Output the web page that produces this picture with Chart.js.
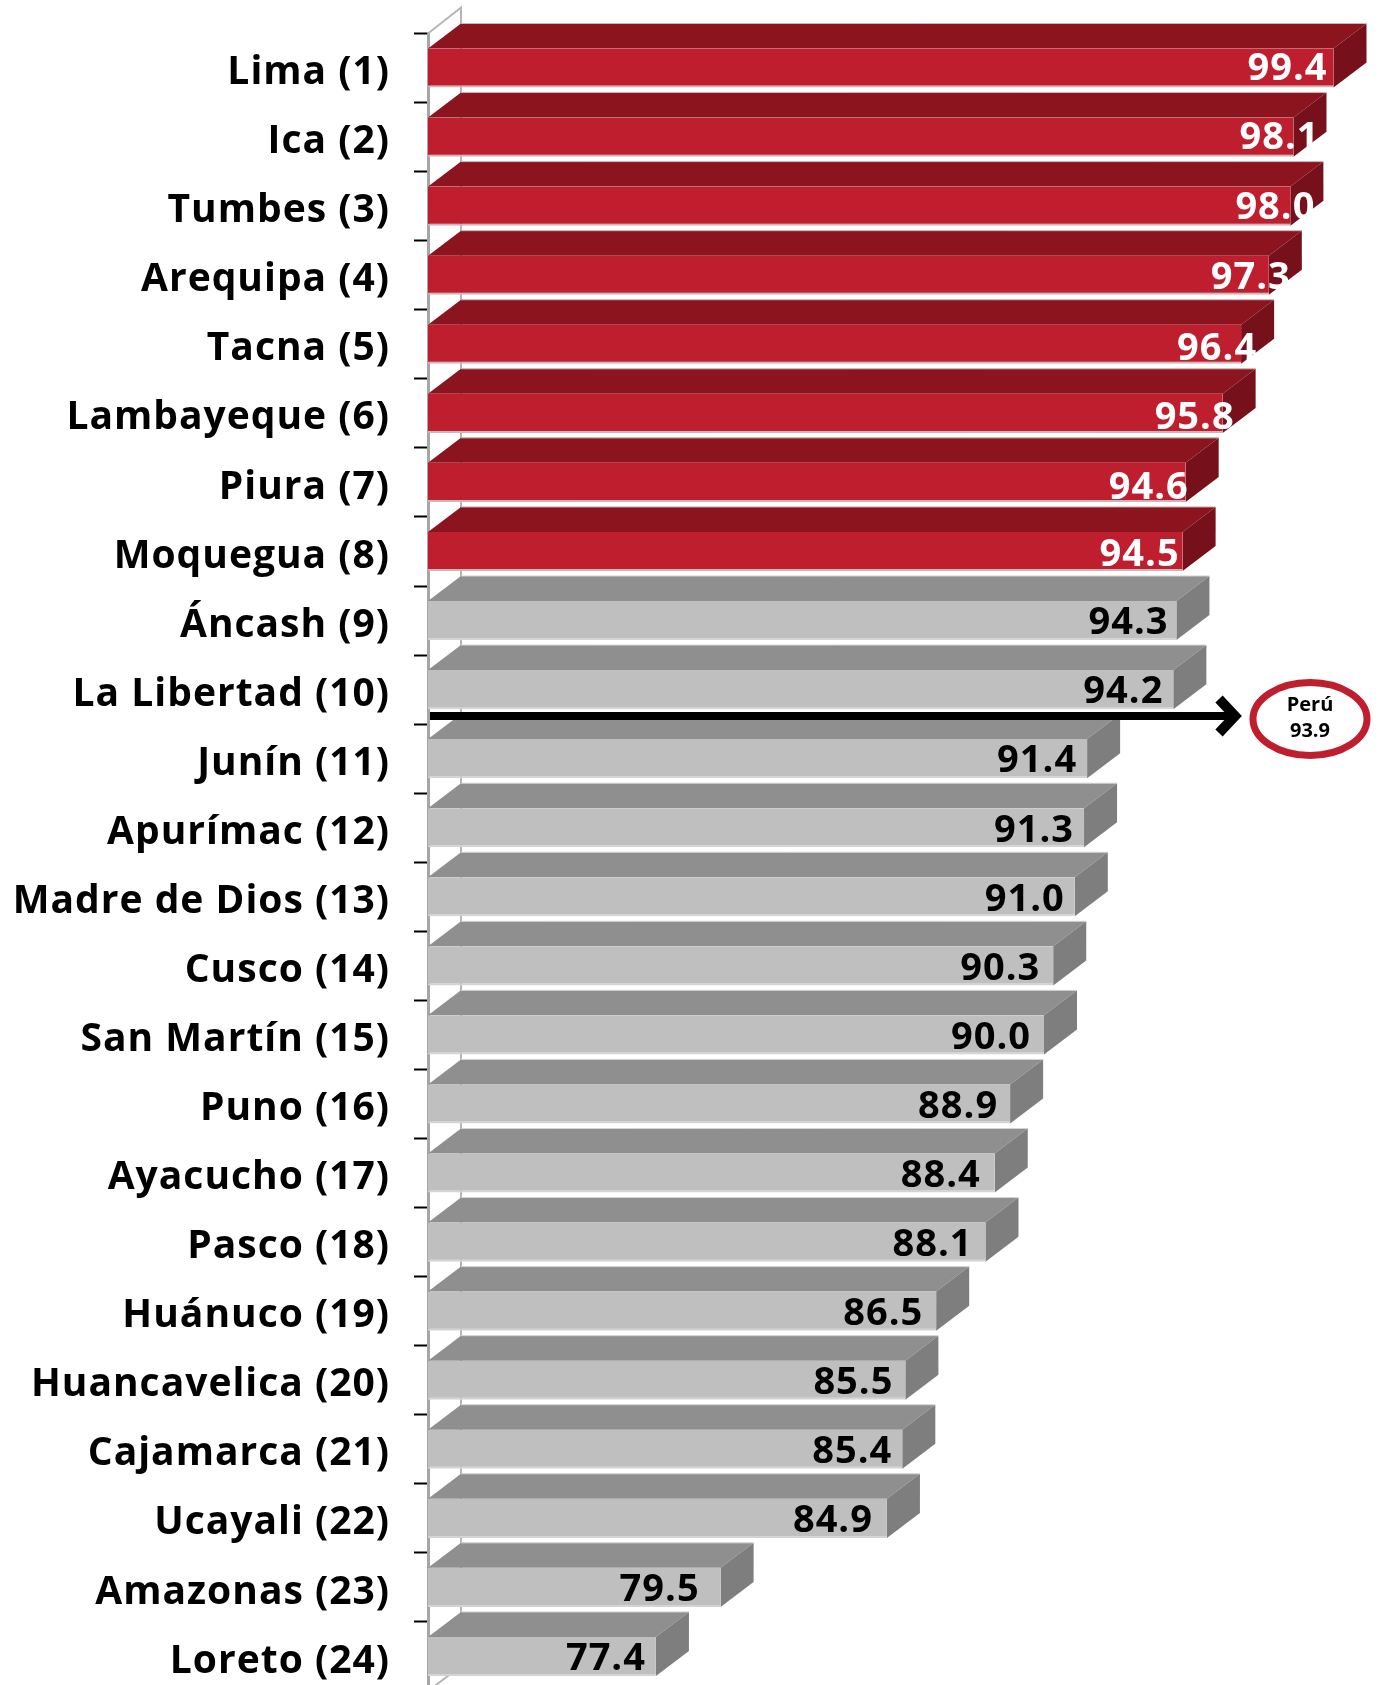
<!DOCTYPE html>
<html><head><meta charset="utf-8">
<style>html,body{margin:0;padding:0;background:#fff;overflow:hidden;width:1378px;height:1685px}
#wrap{position:absolute;left:0;top:0;width:1378px;height:1691px}</style>
<script src="https://cdn.jsdelivr.net/npm/chart.js@4"></script></head>
<body><div id="wrap"><canvas id="c" width="1378" height="1691"></canvas></div>
<script>
const regions = ["Lima (1)","Ica (2)","Tumbes (3)","Arequipa (4)","Tacna (5)","Lambayeque (6)","Piura (7)","Moquegua (8)","Áncash (9)","La Libertad (10)","Junín (11)","Apurímac (12)","Madre de Dios (13)","Cusco (14)","San Martín (15)","Puno (16)","Ayacucho (17)","Pasco (18)","Huánuco (19)","Huancavelica (20)","Cajamarca (21)","Ucayali (22)","Amazonas (23)","Loreto (24)"];
const values = [99.4,98.1,98.0,97.3,96.4,95.8,94.6,94.5,94.3,94.2,91.4,91.3,91.0,90.3,90.0,88.9,88.4,88.1,86.5,85.5,85.4,84.9,79.5,77.4];
const highlighted = 8;
const nationalLabel = "Perú";
const nationalValue = "93.9";
const labelBack = [46,14,15,18,24,28,37,43,48,50,50,50,50,53,53,52,54,53,53,52,50,54,61,50];
const labelLift = [2,2,1,0,-2,-2,-3,-1,0,0,0,0,0,0,0,0,0,0,0,0,0,0,0,0];

const FONT = '"Open Sans", sans-serif';
const DEPTH_X = 33, DEPTH_Y = 25;
const RED = {front:'#BE1E2D', top:'#8C141F', side:'#76101A', edge:'#CDB4B6'};
const GREY = {front:'#BFBFBF', top:'#8F8F8F', side:'#7E7E7E', edge:'#D4D4D4'};
const tone = i => i < highlighted ? RED : GREY;

function poly(ctx, pts, fill){
  ctx.beginPath();
  pts.forEach((p,i)=> i ? ctx.lineTo(p[0],p[1]) : ctx.moveTo(p[0],p[1]));
  ctx.closePath();
  ctx.fillStyle = fill; ctx.fill();
}

const bars3d = {
  id:'bars3d',
  beforeDraw(chart){ chart.ctx.letterSpacing = '1px'; },
  beforeDatasetsDraw(chart){
    const {ctx, chartArea:a} = chart;
    const el = chart.getDatasetMeta(0).data;
    ctx.save();
    ctx.strokeStyle = '#B5B5B5'; ctx.lineWidth = 2;
    ctx.beginPath();
    ctx.moveTo(a.left, a.top); ctx.lineTo(a.left+DEPTH_X, a.top-26);
    ctx.lineTo(a.left+DEPTH_X, a.bottom-DEPTH_Y);
    ctx.lineTo(a.left, a.bottom);
    ctx.stroke();
    el.forEach((b,i)=>{
      const t = tone(i), top = b.y-b.height/2, bot = b.y+b.height/2, L = a.left, R = b.x;
      poly(ctx, [[L,top],[R,top],[R+DEPTH_X,top-DEPTH_Y],[L+DEPTH_X,top-DEPTH_Y]], t.top);
      poly(ctx, [[R,top],[R+DEPTH_X,top-DEPTH_Y],[R+DEPTH_X,bot-DEPTH_Y],[R,bot]], t.side);
      ctx.strokeStyle = t.edge; ctx.lineWidth = 1;
      ctx.beginPath(); ctx.moveTo(L+DEPTH_X,top-DEPTH_Y); ctx.lineTo(R+DEPTH_X,top-DEPTH_Y); ctx.stroke();
    });
    ctx.restore();
  },
  afterDatasetsDraw(chart){
    const ctx = chart.ctx, el = chart.getDatasetMeta(0).data;
    ctx.save();
    ctx.font = '700 38px '+FONT; ctx.textAlign='center'; ctx.textBaseline='middle';
    el.forEach((b,i)=>{
      ctx.fillStyle = i < highlighted ? '#FFFFFF' : '#000000';
      ctx.fillText(values[i].toFixed(1), b.x-labelBack[i], b.y-labelLift[i]+3);
    });
    const y = 716;
    ctx.strokeStyle='#000'; ctx.lineWidth=8; ctx.lineCap='butt'; ctx.lineJoin='miter';
    ctx.beginPath(); ctx.moveTo(430,y); ctx.lineTo(1236,y); ctx.stroke();
    ctx.lineWidth=10;
    ctx.beginPath(); ctx.moveTo(1219,y-17); ctx.lineTo(1235,y); ctx.lineTo(1219,y+17); ctx.stroke();
    ctx.strokeStyle=RED.front; ctx.lineWidth=7;
    ctx.beginPath(); ctx.ellipse(1310,719,57,36.5,0,0,Math.PI*2); ctx.stroke();
    ctx.letterSpacing='0px';
    ctx.fillStyle='#000'; ctx.font='700 20px '+FONT;
    ctx.fillText(nationalLabel,1310,705); ctx.fillText(nationalValue,1310,731);
    ctx.restore();
  }
};

new Chart(document.getElementById('c'),{
  type:'bar',
  data:{labels:regions,datasets:[{data:values,
    backgroundColor:values.map((v,i)=>tone(i).front),
    borderColor:values.map((v,i)=>tone(i).edge),
    borderWidth:{top:0,left:0,right:0,bottom:2},categoryPercentage:1,barPercentage:0.566}]},
  plugins:[bars3d],
  options:{
    indexAxis:'y',responsive:false,animation:false,
    layout:{padding:{top:33.5,right:26,bottom:0,left:0}},
    plugins:{legend:{display:false},tooltip:{enabled:false}},
    scales:{
      x:{display:false,min:70,max:100},
      y:{
        afterFit(s){s.width=428;s.paddingTop=0;s.paddingBottom=0;},
        border:{color:'#A6A6A6',width:3},
        grid:{drawOnChartArea:false,offset:true,tickLength:14,tickColor:'#000',tickWidth:2},
        ticks:{color:'#000',padding:24,autoSkip:false,labelOffset:5,font:{family:FONT,weight:'700',size:39}}
      }
    }
  }
});
</script></body></html>
